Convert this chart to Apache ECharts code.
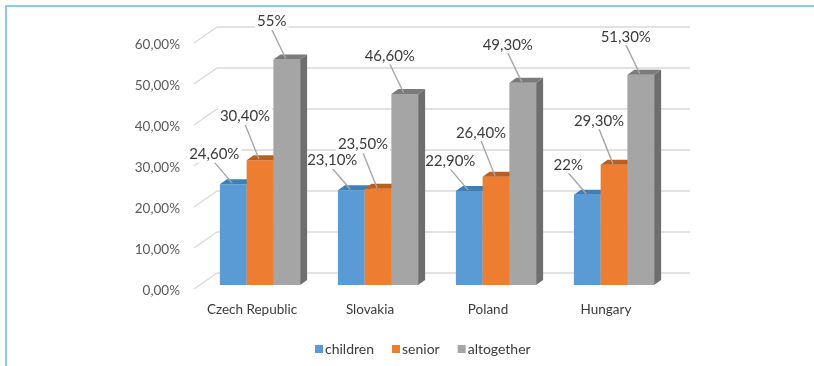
<!DOCTYPE html>
<html lang="en">
<head>
    <meta charset="UTF-8">
    <title>Poverty rates</title>
    <script src="https://cdn.jsdelivr.net/npm/echarts@6/dist/echarts.min.js"></script>
    <style>
        html, body { margin: 0; padding: 0; background: #fff; }
        #frame { position: absolute; left: 5px; top: 5px; width: 809px; height: 361px;
                 border-top: 2px solid #8ccbe0; border-left: 2px solid #8ccbe0; box-sizing: border-box; }
        #chart { position: absolute; left: 0; top: 0; width: 814px; height: 366px; }
    </style>
</head>
<body>
<div id="frame"></div>
<div id="chart"></div>
<script>
    var categories = ['Czech Republic', 'Slovakia', 'Poland', 'Hungary'];
    var children = [24.6, 23.1, 22.9, 22];
    var senior = [30.4, 23.5, 26.4, 29.3];
    var altogether = [55, 46.6, 49.3, 51.3];
    var yTicks = [0, 10, 20, 30, 40, 50, 60];

    var font = 'Lato';
    var textColor = '#3a3a3a';

    // face colours: front, top, side
    var palette = [
        ['#5b9bd5', '#3f7fb8', '#41719c'],
        ['#ed7d31', '#b85f22', '#ae5a21'],
        ['#a5a5a5', '#7b7b7b', '#6e6e6e']
    ];
    // where each series puts its data label, relative to the bar top
    var labelOffset = [[-18, -30], [-14, -44], [-14, -38]];

    function pct(v) {
        if (Math.round(v) === v) return v + '%';
        return v.toFixed(2).replace('.', ',') + '%';
    }

    function bar3d(si) {
        return function (params, api) {
            var ci = api.value(0), v = api.value(1);
            var base = api.coord([ci, 0]);
            var top = api.coord([ci, v]);
            var band = api.size([1, 0])[0];
            var bw = band * 0.68 / 3;
            var dx = 7, dy = 5;
            var x0 = base[0] - 1.5 * bw + si * bw;
            var x1 = x0 + bw;
            var c = palette[si];
            var cx = x0 + bw / 2 - 1;
            var lx = cx + labelOffset[si][0];
            var ly = top[1] + labelOffset[si][1];
            return {
                type: 'group',
                children: [
                    { type: 'polygon', shape: { points: [[x1, top[1]], [x1 + dx, top[1] - dy], [x1 + dx, base[1] - dy], [x1, base[1]]] },
                      style: { fill: c[2] } },
                    { type: 'rect', shape: { x: x0, y: top[1], width: bw, height: base[1] - top[1] },
                      style: { fill: c[0] } },
                    { type: 'polygon', shape: { points: [[x0, top[1]], [x1, top[1]], [x1 + dx, top[1] - dy], [x0 + dx, top[1] - dy]] },
                      style: { fill: c[1] } },
                    { type: 'line', shape: { x1: lx, y1: ly + 8, x2: cx, y2: top[1] - 1 },
                      style: { stroke: '#a6a6a6', lineWidth: 1.4 }, z2: 5 },
                    { type: 'text', x: lx, y: ly, z2: 6,
                      style: { text: pct(v), font: '15px ' + font, fill: textColor, align: 'center',
                               verticalAlign: 'middle', backgroundColor: '#fff', padding: [1, 2] } }
                ]
            };
        };
    }

    function series3d(name, values, si) {
        return {
            name: name,
            type: 'custom',
            xAxisIndex: 0, yAxisIndex: 0,
            itemStyle: { color: palette[si][0] },
            renderItem: bar3d(si),
            encode: { x: 0, y: 1 },
            data: values.map(function (v, i) { return [i, v]; }),
            z: 3 + si
        };
    }

    var chart = echarts.init(document.getElementById('chart'));
    var hidden = { show: false };
    chart.setOption({
        animation: false,
        textStyle: { fontFamily: font },
        grid: [
            { left: 201, top: 39, width: 472, height: 246 },   // bars (front plane)
            { left: 193, top: 45, width: 472, height: 246 },   // axis labels
            { left: 217, top: 27, width: 473, height: 246 }    // back wall
        ],
        xAxis: [
            { type: 'category', gridIndex: 0, data: categories, axisLine: hidden, axisTick: hidden, axisLabel: hidden },
            { type: 'category', gridIndex: 1, data: categories, axisLine: hidden, axisTick: hidden,
              axisLabel: { margin: 12, fontSize: 13.5, color: textColor, fontFamily: font } },
            { type: 'category', gridIndex: 2, data: categories, axisLine: hidden, axisTick: hidden, axisLabel: hidden }
        ],
        yAxis: [
            { type: 'value', gridIndex: 0, min: 0, max: 60, interval: 10, splitLine: hidden, axisLabel: hidden },
            { type: 'value', gridIndex: 1, min: 0, max: 60, interval: 10, splitLine: hidden,
              axisLabel: { margin: 13, fontSize: 13.5, color: '#595959', fontFamily: font,
                           formatter: function (v) { return v.toFixed(2).replace('.', ',') + '%'; } } },
            { type: 'value', gridIndex: 2, min: 0, max: 60, interval: 10, axisLabel: hidden,
              splitLine: { lineStyle: { color: '#d9d9d9', width: 1.5 } } }
        ],
        legend: {
            bottom: 5,
            left: 310,
            icon: 'rect',
            itemWidth: 8, itemHeight: 8, itemGap: 18,
            textStyle: { fontSize: 14, color: textColor, fontFamily: font, padding: [0, 0, 0, -3] },
            data: ['children', 'senior', 'altogether']
        },
        series: [
            {
                type: 'custom',
                xAxisIndex: 2, yAxisIndex: 2,
                silent: true,
                data: yTicks.map(function (t) { return [0, t]; }),
                encode: { x: 0, y: 1 },
                renderItem: function (params, api) {
                    var p = api.coord([0, api.value(1)]);
                    var left = params.coordSys.x;
                    return { type: 'line', shape: { x1: left - 23, y1: p[1] + 16, x2: left, y2: p[1] },
                             style: { stroke: '#d9d9d9', lineWidth: 1.5 } };
                },
                z: 1
            },
            series3d('children', children, 0),
            series3d('senior', senior, 1),
            series3d('altogether', altogether, 2)
        ]
    });
</script>
</body>
</html>
